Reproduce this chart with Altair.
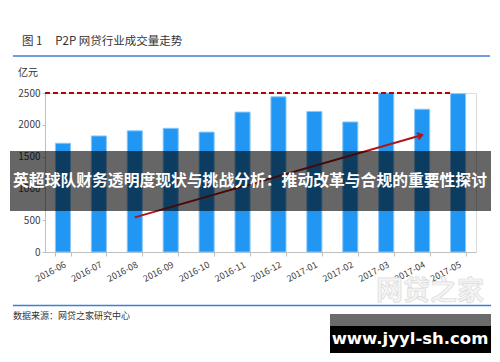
import altair as alt
import pandas as pd

months = ["2016-06", "2016-07", "2016-08", "2016-09", "2016-10", "2016-11",
          "2016-12", "2017-01", "2017-02", "2017-03", "2017-04", "2017-05"]
volumes = [1710, 1825, 1905, 1945, 1885, 2200, 2440, 2210, 2045, 2500, 2245, 2490]
ref_level = 2500
arrow_months = ["2016-08", "2017-04"]
arrow_values = [545, 1840]
y_ticks = [0, 500, 1000, 1500, 2000, 2500]

FONT = "Noto Sans CJK SC"
W, H = 431, 159
NB = "\u00a0"

bars_df = pd.DataFrame({"month": months, "volume": volumes})
arrow_df = pd.DataFrame({"month": [arrow_months[0]], "month2": [arrow_months[1]],
                         "v": [arrow_values[0]], "v2": [arrow_values[1]]})
head_df = pd.DataFrame({"month": [arrow_months[1]], "v": [arrow_values[1]]})
one = pd.DataFrame({"a": [0]})

xscale = alt.Scale(domain=months, paddingInner=0.58, paddingOuter=0.29)
yscale = alt.Scale(domain=[0, 2500], nice=False, zero=True)
yaxis = alt.Axis(title=None, values=y_ticks, grid=False, format="d", labelOverlap=False,
                 tickCount=6)
xaxis = alt.Axis(title=None)

bars = alt.Chart(bars_df).mark_bar(color="#2196F3", stroke="#8cc8f8", strokeWidth=1).encode(
    x=alt.X("month:N", scale=xscale, sort=months, axis=xaxis),
    y=alt.Y("volume:Q", scale=yscale, axis=yaxis),
)

dash = alt.Chart(one).mark_rule(color="#c00000", strokeDash=[5, 3], strokeWidth=2).encode(
    y=alt.Y(datum=ref_level, scale=yscale, axis=yaxis), x=alt.value(0), x2=alt.value(406)
)

arrow = alt.Chart(arrow_df).mark_rule(color="#b01515", strokeWidth=2).encode(
    x=alt.X("month:N", scale=xscale, sort=months, axis=xaxis), x2="month2:N",
    y=alt.Y("v:Q", scale=yscale, axis=yaxis), y2="v2:Q"
)

head = alt.Chart(head_df).mark_point(
    shape="M -1 -0.7 L 0 0 L -1 0.7", filled=False, stroke="#b01515", strokeWidth=2,
    size=90, angle=344, opacity=1
).encode(x=alt.X("month:N", scale=xscale, sort=months, axis=xaxis),
         y=alt.Y("v:Q", scale=yscale, axis=yaxis))

title = alt.Chart(one).mark_text(text="图 1" + NB * 5 + "P2P 网贷行业成交量走势", font=FONT,
                                 fontSize=11.5, color="#333333", align="left",
                                 baseline="middle").encode(
    x=alt.value(-23), y=alt.value(-51))
topline = alt.Chart(one).mark_rule(color="#3b7fd6", strokeWidth=1.5).encode(
    x=alt.value(-32), x2=alt.value(445), y=alt.value(-37))
unit = alt.Chart(one).mark_text(text="亿元", font=FONT, fontSize=10, color="#333333",
                                align="left", baseline="middle").encode(
    x=alt.value(-27), y=alt.value(-20))
botline = alt.Chart(one).mark_rule(color="#3b7fd6", strokeWidth=1.5).encode(
    x=alt.value(-32), x2=alt.value(446), y=alt.value(212.5))
source = alt.Chart(one).mark_text(text="数据来源：网贷之家研究中心", font=FONT, fontSize=9,
                                  color="#333333", align="left", baseline="middle").encode(
    x=alt.value(-32), y=alt.value(223))
wm = alt.Chart(one).mark_text(text="网贷之家", font=FONT, fontSize=27, fontWeight="bold",
                              color="#f4f4f4", stroke="#dcdcdc", strokeWidth=0.7,
                              align="center", baseline="middle").encode(
    x=alt.value(385), y=alt.value(199))

overlay = alt.Chart(one).mark_rect(color="#000000", opacity=0.6).encode(
    x=alt.value(-35), x2=alt.value(446), y=alt.value(58), y2=alt.value(118))
overlay_text = alt.Chart(one).mark_text(
    text="英超球队财务透明度现状与挑战分析：推动改革与合规的重要性探讨",
    font=FONT, fontSize=15.8, fontWeight="bold", color="#ffffff",
    align="center", baseline="middle").encode(x=alt.value(205), y=alt.value(88))

grayband = alt.Chart(one).mark_rect(color="#6b6b6b").encode(
    x=alt.value(285), x2=alt.value(446), y=alt.value(221), y2=alt.value(233))
blackbox = alt.Chart(one).mark_rect(color="#000000").encode(
    x=alt.value(285), x2=alt.value(446), y=alt.value(233), y2=alt.value(260))
url = alt.Chart(one).mark_text(text="www.jyyl-sh.com", font="DejaVu Sans", fontSize=16.5,
                               fontWeight="bold", color="#ffffff",
                               align="center", baseline="middle").encode(
    x=alt.value(365), y=alt.value(246))

chart = alt.layer(
    bars, dash, arrow, head, title, topline, unit, botline, source, wm,
    overlay, overlay_text, grayband, blackbox, url
).properties(
    width=W, height=H,
    autosize=alt.AutoSizeParams(type="none"),
    padding={"left": 37, "top": 85, "right": 16, "bottom": 102},
).configure_view(stroke=None).configure(background="white").configure_axisY(
    labelOverlap=False, grid=False, labelFont=FONT, labelFontSize=10, labelColor="#404040",
    tickSize=3, tickColor="#bfbfbf", domainColor="#bfbfbf", labelPadding=2
).configure_axisX(
    labelAngle=332, labelAlign="right", labelBaseline="top",
    labelFont=FONT, labelFontSize=9, labelColor="#404040",
    tickBand="extent", tickSize=4, tickColor="#bfbfbf",
    domainColor="#bfbfbf", labelPadding=4
)

chart.save("out.html", embed_options={"renderer": "svg", "actions": False})
